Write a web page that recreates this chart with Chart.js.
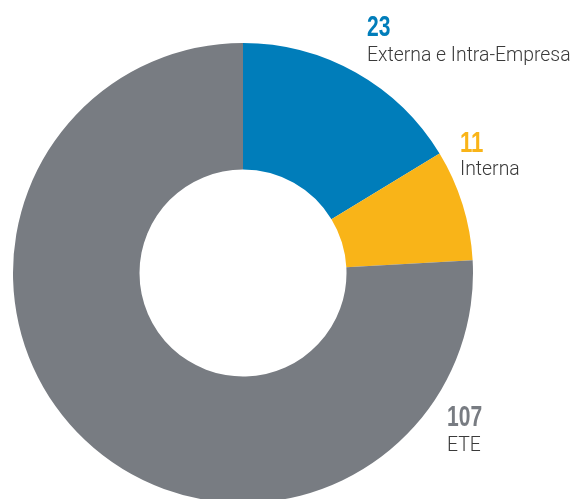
<!DOCTYPE html>
<html>
<head>
<meta charset="utf-8">
<script src="https://cdn.jsdelivr.net/npm/chart.js@4/dist/chart.umd.min.js"></script>
<style>
  html, body { margin: 0; padding: 0; background: #fff; overflow: hidden; }
  #wrap { position: absolute; left: 0; top: 0; width: 576px; height: 510px; }
</style>
</head>
<body>
<div id="wrap"><canvas id="c"></canvas></div>
<script>
// Segments, clockwise from 12 o'clock
const categories = ['Externa e Intra-Empresa', 'Interna', 'ETE'];
const values = [23, 11, 107];
const colors = ['#007DBA', '#F9B418', '#787C82'];

// Callout text beside each segment: number on top, category underneath
const callouts = [
  { x: 367, numY: 36,  textY: 61 },
  { x: 460, numY: 152, textY: 175 },
  { x: 447, numY: 426, textY: 451 }
];

const NUM_FONT = 'bold 29px "Liberation Sans", Arial, sans-serif';
const DIGIT_WIDTH = 11.7;   // condensed look for the big numbers

const calloutPlugin = {
  id: 'callouts',
  afterDraw(chart) {
    const ctx = chart.ctx;
    ctx.save();
    ctx.textAlign = 'left';
    ctx.textBaseline = 'alphabetic';
    callouts.forEach((c, i) => {
      const txt = String(values[i]);
      ctx.font = NUM_FONT;
      const sx = (DIGIT_WIDTH * txt.length) / ctx.measureText(txt).width;
      ctx.save();
      ctx.translate(c.x, c.numY);
      ctx.scale(sx, 1);
      ctx.fillStyle = colors[i];
      ctx.fillText(txt, 0, 0);
      ctx.restore();
      ctx.fillStyle = '#3a3a3a';
      ctx.font = '300 19.4px Roboto, "Open Sans", sans-serif';
      ctx.fillText(categories[i], c.x, c.textY);
    });
    ctx.restore();
  }
};

new Chart(document.getElementById('c'), {
  type: 'doughnut',
  data: {
    labels: categories,
    datasets: [{
      data: values,
      backgroundColor: colors,
      borderWidth: 0,
      hoverOffset: 0
    }]
  },
  options: {
    responsive: true,
    maintainAspectRatio: false,
    animation: false,
    cutout: '45%',
    layout: { padding: { left: 13, top: 43, right: 103, bottom: 7 } },
    plugins: {
      legend: { display: false },
      tooltip: { enabled: false }
    }
  },
  plugins: [calloutPlugin]
});
</script>
</body>
</html>
